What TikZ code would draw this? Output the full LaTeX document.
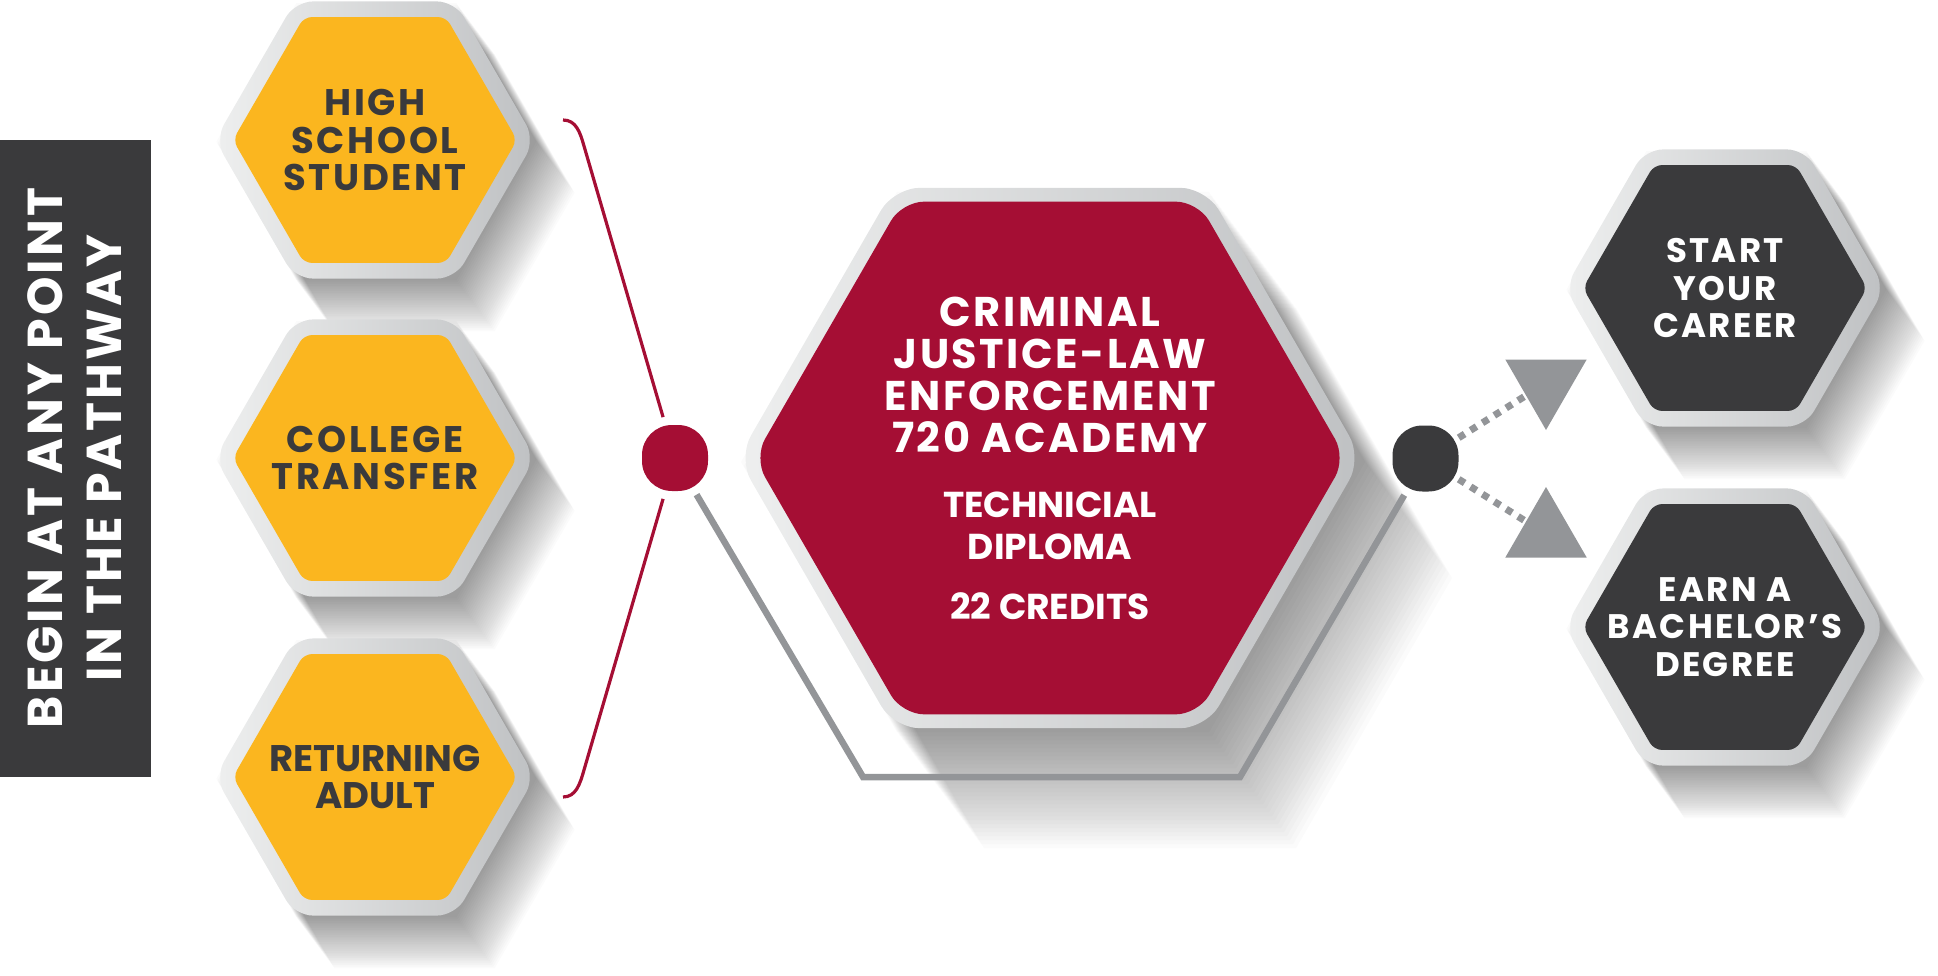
\documentclass[tikz,border=0pt]{standalone}
\usepackage{fontspec}
\setmainfont{Poppins}
\usetikzlibrary{shapes.geometric}

\definecolor{gold}{HTML}{FBB61F}
\definecolor{crimson}{HTML}{A50E34}
\definecolor{charcoal}{HTML}{3A3A3C}
\definecolor{steel}{HTML}{939598}
\definecolor{rimlight}{HTML}{EEEFEF}
\definecolor{rimdark}{HTML}{BFC1C3}

\begin{document}
\begin{tikzpicture}[x=1pt,y=-1pt,
  hexrim/.style={regular polygon, regular polygon sides=6, inner sep=0pt, minimum size=320pt, rounded corners=18pt, left color=rimlight, right color=rimdark},
  hexcore/.style={regular polygon, regular polygon sides=6, inner sep=0pt, minimum size=284pt, rounded corners=8pt},
  hexshade/.style={regular polygon, regular polygon sides=6, inner sep=0pt, fill=black, fill opacity=0.014},
  entry/.style={hexcore, fill=gold},
  entrytext/.style={text=charcoal, align=center, font=\bfseries\fontsize{37}{37.5}\selectfont\addfontfeature{LetterSpace=7}},
  goal/.style={hexcore, fill=charcoal},
  goaltext/.style={text=white, align=center, font=\bfseries\fontsize{34}{37.5}\selectfont\addfontfeature{LetterSpace=7}},
  hub/.style={rectangle, minimum size=66pt, inner sep=0pt, rounded corners=30pt},
  pointer/.style={regular polygon, regular polygon sides=3, inner sep=0pt, minimum size=94pt, fill=steel},
  bracket/.style={draw=crimson, line width=3.2pt},
  rail/.style={draw=steel, line width=6.5pt},
  dashline/.style={draw=steel, line width=7pt, dash pattern=on 7pt off 7pt}]
\useasboundingbox (0,0) rectangle (1938,976);

% long shadows
\foreach \cx/\cy/\rr/\st in {375/140/160/2.2, 375/458/160/2.2, 375/777/160/2.2, 1725/288/160/2.2, 1725/627/160/2.2, 1050/458/312/5}
  \foreach \k in {1,...,30}
    \node[hexshade, minimum size=2*\rr] at (\cx+0.6*\k*\st, \cy+0.8*\k*\st) {};

% banner
\fill[charcoal] (0,140) rectangle (151,777);
\node[rotate=90, text=white, align=center, font=\bfseries\fontsize{49}{59}\selectfont\addfontfeature{LetterSpace=6}] (banner) at (75,458) {BEGIN AT ANY POINT\\IN THE PATHWAY};

% starting points
\node[hexrim] at (375,140) {};
\node[entry] (school) at (375,140) {};
\node[entrytext] at (school) {HIGH\\SCHOOL\\STUDENT};
\node[hexrim] at (375,458) {};
\node[entry] (transfer) at (375,458) {};
\node[entrytext] at (transfer) {COLLEGE\\TRANSFER};
\node[hexrim] at (375,777) {};
\node[entry] (adult) at (375,777) {};
\node[entrytext, font=\bfseries\fontsize{37}{37.5}\selectfont] at (adult) {RETURNING\\ADULT};

% academy
\node[hexrim, minimum size=624pt, rounded corners=26pt] at (1050,458) {};
\node[hexcore, minimum size=592pt, rounded corners=22pt, fill=crimson] (academy) at (1050,458) {};
\node[text=white, align=center, font=\bfseries\fontsize{41.5}{42}\selectfont\addfontfeature{LetterSpace=6}] (academytitle) at (1050,375) {CRIMINAL\\JUSTICE-LAW\\ENFORCEMENT\\720 ACADEMY};
\node[text=white, align=center, font=\bfseries\fontsize{36}{42}\selectfont] (academysub) at (1050,556) {TECHNICIAL\\DIPLOMA\\[18pt]22 CREDITS};

% outcomes
\node[hexrim] at (1725,288) {};
\node[goal] (career) at (1725,288) {};
\node[goaltext] at (career) {START\\YOUR\\CAREER};
\node[hexrim] at (1725,627) {};
\node[goal] (degree) at (1725,627) {};
\node[goaltext] at (degree) {EARN A\\BACHELOR’S\\DEGREE};

% hubs and pointers
\node[hub, fill=crimson] (redhub) at (675,458) {};
\node[hub, fill=charcoal] (darkhub) at (1425.5,458.5) {};
\node[pointer, shape border rotate=180] (tocareer) at (1546,383) {};
\node[pointer] (todegree) at (1546,534) {};

\coordinate (entrytop) at (563,120);
\coordinate (entrybot) at (563,797);
\coordinate (railleft) at (863,777);
\coordinate (railright) at (1240,777);

% connectors
\draw[bracket, shorten >=8pt] (entrytop) .. controls (576,120) and (580,132) .. (584,146) -- (redhub);
\draw[bracket, shorten <=8pt] (redhub) -- (584,770) .. controls (580,784) and (576,797) .. (entrybot);
\draw[rail, shorten <=4pt, shorten >=4pt] (redhub) -- (railleft) -- (railright) -- (darkhub);
\draw[dashline] (darkhub) -- (tocareer);
\draw[dashline] (darkhub) -- (todegree);
\end{tikzpicture}
\end{document}
